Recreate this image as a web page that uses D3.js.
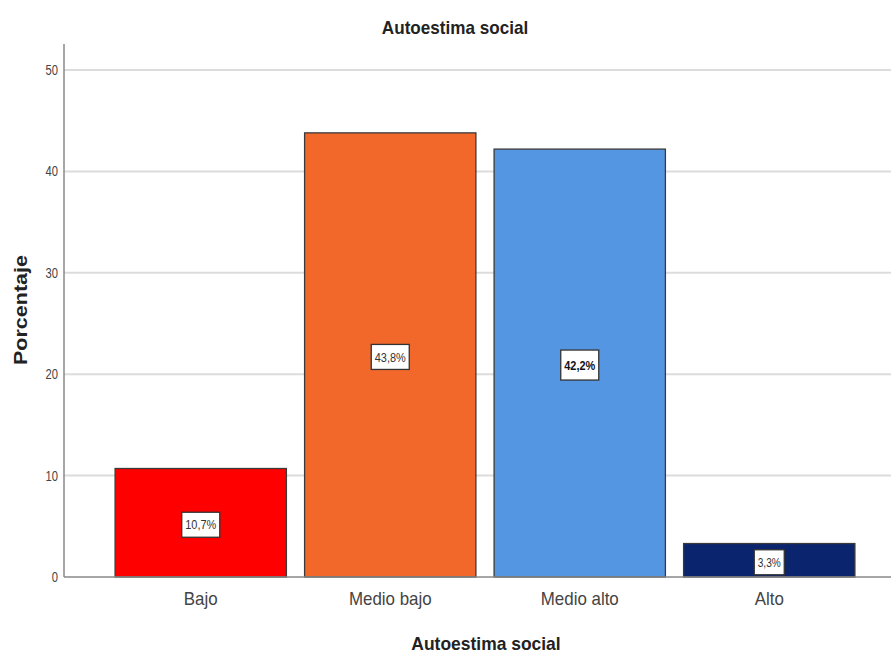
<!DOCTYPE html>
<html>
<head>
<meta charset="utf-8">
<script src="https://cdn.jsdelivr.net/npm/d3@7"></script>
<style>
  html, body { margin: 0; padding: 0; background: #fff; }
  svg { display: block; font-family: "Liberation Sans", Arial, sans-serif; }
</style>
</head>
<body>
<svg id="chart" width="891" height="653"></svg>
<script>
// Distribution of "Autoestima social" levels (percent of respondents)
const categories = ["Bajo", "Medio bajo", "Medio alto", "Alto"];
const percentages = [10.7, 43.8, 42.2, 3.3];
const valueLabels = ["10,7%", "43,8%", "42,2%", "3,3%"];
const labelBold = [false, false, true, false];
const barColors = ["#FF0000", "#F2672A", "#5596E3", "#0A246E"];
const yTicks = [0, 10, 20, 30, 40, 50];

const svg = d3.select("#chart");
const W = 891;
const axisX = 64, axisTop = 44, baseY = 577;

const y = d3.scaleLinear().domain([0, 50]).range([baseY, 70]);
const x = d3.scaleBand().domain(categories).range([106, 864]).paddingInner(0.096).paddingOuter(0.048);

// Text drawn with a slight horizontal squeeze
function squeezedText(parent, px, py, str, size, sx, opts = {}) {
  return parent.append("text")
    .attr("transform", `translate(${px},${py}) scale(${sx},1)`)
    .attr("text-anchor", opts.anchor || "middle")
    .attr("dy", opts.dy || null)
    .attr("font-size", size)
    .attr("font-weight", opts.bold ? "bold" : "normal")
    .attr("fill", opts.fill || "#333")
    .text(str);
}

// Horizontal gridlines
svg.append("g").selectAll("line").data(yTicks.filter(t => t > 0)).join("line")
  .attr("x1", axisX).attr("x2", W)
  .attr("y1", d => y(d)).attr("y2", d => y(d))
  .attr("stroke", "#dcdcdc").attr("stroke-width", 2);

// Bars
svg.append("g").selectAll("rect").data(percentages).join("rect")
  .attr("x", (d, i) => x(categories[i]))
  .attr("y", d => y(d))
  .attr("width", x.bandwidth())
  .attr("height", d => baseY - y(d))
  .attr("fill", (d, i) => barColors[i])
  .attr("stroke", "#3a3a3a").attr("stroke-width", 1.3);

// Y axis: line plus tick labels placed through the scale
const gy = svg.append("g");
yTicks.forEach(t => squeezedText(gy, axisX - 6, y(t), String(t), 14, 0.8, { anchor: "end", dy: "0.35em", fill: "#444" }));
svg.append("line").attr("x1", axisX).attr("x2", axisX).attr("y1", axisTop).attr("y2", baseY)
  .attr("stroke", "#888").attr("stroke-width", 1.5);

// X axis: baseline plus category labels
const gx = svg.append("g");
categories.forEach(c => squeezedText(gx, x(c) + x.bandwidth() / 2, 605, c, 18, 0.94, { fill: "#444" }));
svg.append("line").attr("x1", axisX).attr("x2", W).attr("y1", baseY).attr("y2", baseY)
  .attr("stroke", "#888").attr("stroke-width", 1.5);

// Value labels inside bars
const lab = svg.append("g").selectAll("g").data(percentages).join("g")
  .attr("transform", (d, i) => `translate(${x(categories[i]) + x.bandwidth() / 2},${y(d / 2) + 2})`);
lab.each(function (d, i) {
  const g = d3.select(this);
  const txt = valueLabels[i];
  const bw = txt.length > 4 ? 38 : 30;
  const bh = labelBold[i] ? 30 : 25;
  g.append("rect")
    .attr("x", -bw / 2).attr("y", -bh / 2).attr("width", bw).attr("height", bh)
    .attr("fill", "#fff").attr("stroke", "#333").attr("stroke-width", 1.3);
  g.append("text")
    .attr("text-anchor", "middle").attr("dy", "0.36em")
    .attr("font-size", 13).attr("fill", labelBold[i] ? "#111" : "#333")
    .attr("font-weight", labelBold[i] ? "bold" : "normal")
    .attr("textLength", bw - 7).attr("lengthAdjust", "spacingAndGlyphs")
    .text(txt);
});

// Titles
squeezedText(svg, 455, 34, "Autoestima social", 18, 0.95, { bold: true, fill: "#222" });
squeezedText(svg, 486, 650, "Autoestima social", 18, 0.97, { bold: true, fill: "#222" });
svg.append("text").attr("transform", "translate(27,310) rotate(-90)").attr("text-anchor", "middle")
  .attr("font-size", 18).attr("font-weight", "bold").attr("fill", "#222")
  .attr("textLength", 110).attr("lengthAdjust", "spacingAndGlyphs")
  .text("Porcentaje");
</script>
</body>
</html>
